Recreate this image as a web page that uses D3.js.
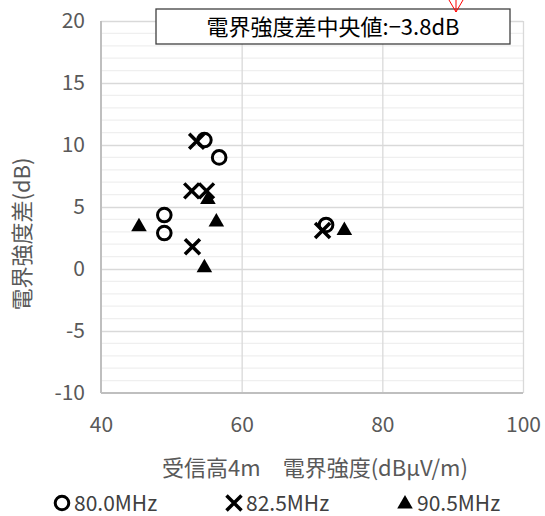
<!DOCTYPE html>
<html>
<head>
<meta charset="utf-8">
<script src="https://cdn.jsdelivr.net/npm/d3@7"></script>
<style>
  html, body { margin: 0; padding: 0; background: #fff; }
  svg { display: block; font-family: "Noto Sans CJK JP", "Noto Sans", sans-serif; }
</style>
</head>
<body>
<svg id="chart" width="545" height="516"></svg>
<script>
// ---- data ----
const seriesNames = ["80.0MHz", "82.5MHz", "90.5MHz"];
const s80x = [54.7, 56.8, 49.0, 49.0, 72.0];
const s80y = [10.4, 9.0, 4.35, 2.9, 3.55];
const s825x = [53.6, 52.9, 55.0, 53.0, 71.5];
const s825y = [10.3, 6.3, 6.3, 1.8, 3.1];
const s905x = [45.4, 55.2, 56.4, 54.7, 74.6];
const s905y = [3.4, 5.6, 3.8, 0.1, 3.1];
const xTicks = [40, 60, 80, 100];
const yTicks = [-10, -5, 0, 5, 10, 15, 20];
const xTitle = "受信高4m\u3000電界強度(dBμV/m)";
const yTitle = "電界強度差(dB)";
const noteText = "電界強度差中央値:−3.8dB";

const svg = d3.select("#chart");
const L = 101, R = 523, T = 21, B = 393;
const x = d3.scaleLinear().domain([40, 100]).range([L, R]);
const y = d3.scaleLinear().domain([-10, 20]).range([B, T]);

// minor horizontal gridlines
const minor = d3.range(-10, 21, 1).filter(v => v % 5 !== 0);
svg.append("g").selectAll("line").data(minor).join("line")
  .attr("x1", L).attr("x2", R).attr("y1", d => y(d)).attr("y2", d => y(d))
  .attr("stroke", "#efefef").attr("stroke-width", 1.2);

// major gridlines
svg.append("g").call(d3.axisLeft(y).tickValues(yTicks.filter(v => v > -10)).tickSize(-(R - L)).tickFormat(""))
  .attr("transform", `translate(${L},0)`)
  .call(g => g.select(".domain").remove())
  .call(g => g.selectAll("line").attr("stroke", "#d9d9d9").attr("stroke-width", 1.3));
svg.append("g").call(d3.axisBottom(x).tickValues(xTicks.filter(v => v > 40)).tickSize(-(B - T)).tickFormat(""))
  .attr("transform", `translate(0,${B})`)
  .call(g => g.select(".domain").remove())
  .call(g => g.selectAll("line").attr("stroke", "#d9d9d9").attr("stroke-width", 1.3));

// axis lines
svg.append("line").attr("x1", L).attr("x2", L).attr("y1", T).attr("y2", B)
  .attr("stroke", "#bfbfbf").attr("stroke-width", 2);
svg.append("line").attr("x1", L).attr("x2", R).attr("y1", B).attr("y2", B)
  .attr("stroke", "#bfbfbf").attr("stroke-width", 2);

// tick labels
const yAx = svg.append("g").attr("transform", `translate(${L},0)`)
  .call(d3.axisLeft(y).tickValues(yTicks).tickSize(0).tickPadding(16).tickFormat(d => String(d)));
yAx.select(".domain").remove();
yAx.selectAll("text").attr("font-size", 21).attr("fill", "#595959")
  .attr("font-family", "Noto Sans CJK JP");
const xAx = svg.append("g").attr("transform", `translate(0,${B})`)
  .call(d3.axisBottom(x).tickValues(xTicks).tickSize(0).tickPadding(24).tickFormat(d => String(d)));
xAx.select(".domain").remove();
xAx.selectAll("text").attr("font-size", 21).attr("fill", "#595959")
  .attr("font-family", "Noto Sans CJK JP");

// axis titles
svg.append("text").attr("x", 315).attr("y", 476).attr("text-anchor", "middle")
  .attr("font-size", 22).attr("fill", "#595959").text(xTitle);
svg.append("text").attr("transform", "translate(30,234) rotate(-90)")
  .attr("text-anchor", "middle").attr("font-size", 22).attr("fill", "#595959").text(yTitle);

// markers
const pts = (xs, ys) => xs.map((v, i) => [v, ys[i]]);
const symTri = d3.symbol().type(d3.symbolTriangle).size(105);
function drawCircle(g, cx, cy) {
  g.append("circle").attr("cx", cx).attr("cy", cy).attr("r", 6.8)
    .attr("fill", "none").attr("stroke", "#000").attr("stroke-width", 3);
}
function drawCross(g, cx, cy) {
  const s = 7.5;
  g.append("path").attr("d", `M${cx - s},${cy - s}L${cx + s},${cy + s}M${cx - s},${cy + s}L${cx + s},${cy - s}`)
    .attr("stroke", "#000").attr("stroke-width", 3.5).attr("fill", "none");
}
function drawTri(g, cx, cy) {
  g.append("path").attr("d", symTri()).attr("transform", `translate(${cx},${cy})`).attr("fill", "#000");
}
const gm = svg.append("g");
pts(s80x, s80y).forEach(d => drawCircle(gm, x(d[0]), y(d[1])));
pts(s825x, s825y).forEach(d => drawCross(gm, x(d[0]), y(d[1])));
pts(s905x, s905y).forEach(d => drawTri(gm, x(d[0]), y(d[1])));

// legend
const lg = svg.append("g");
const legX = [62, 234, 405];
const legY = 503;
drawCircle(lg, legX[0], legY);
drawCross(lg, legX[1], legY);
drawTri(lg, legX[2], legY + 1);
seriesNames.forEach((n, i) => {
  lg.append("text").attr("x", legX[i] + 12).attr("y", legY + 8).attr("font-size", 21)
    .attr("fill", "#404040").text(n);
});

// note box
svg.append("rect").attr("x", 156).attr("y", 9).attr("width", 354).attr("height", 35)
  .attr("fill", "#fff").attr("stroke", "#404040").attr("stroke-width", 1.3);
svg.append("text").attr("x", 333).attr("y", 35).attr("text-anchor", "middle")
  .attr("font-size", 22).attr("fill", "#000").text(noteText);

// red arrow
svg.append("path").attr("d", "M456,-2L456,12M449,0L456,12L463,0")
  .attr("stroke", "#ff0000").attr("stroke-width", 1).attr("fill", "none");
</script>
</body>
</html>
